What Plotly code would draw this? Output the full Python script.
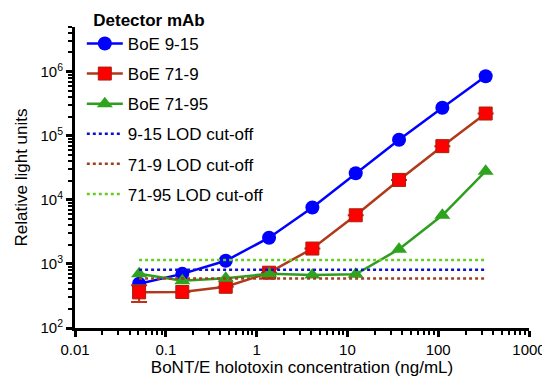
import plotly.graph_objects as go

conc = [0.0508, 0.152, 0.457, 1.372, 4.115, 12.35, 37.04, 111.1, 333.3]
boe_9_15 = [490, 700, 1120, 2570, 7600, 26000, 87000, 275000, 850000]
boe_71_9 = [360, 365, 440, 730, 1740, 5750, 20500, 69000, 223000]
boe_71_9_err = [105, 0, 0, 0, 0, 0, 0, 0, 0]
boe_71_95 = [705, 545, 600, 700, 670, 690, 1700, 5750, 28000]
lod_x = [0.0508, 333.3]
lod_9_15 = 810
lod_71_9 = 590
lod_71_95 = 1150

x_tickvals = [0.01, 0.1, 1, 10, 100, 1000]
x_ticktext = ["0.01", "0.1", "1", "10", "100", "1000"]
y_tickvals = [1e2, 1e3, 1e4, 1e5, 1e6]
y_ticktext = ["10<sup>2</sup>", "10<sup>3</sup>", "10<sup>4</sup>", "10<sup>5</sup>", "10<sup>6</sup>"]

FONT = "Arial, Liberation Sans, sans-serif"

fig = go.Figure()
fig.add_trace(go.Scatter(
    x=conc, y=boe_9_15, name="BoE 9-15", mode="lines+markers",
    line=dict(color="#0000FF", width=2.5),
    marker=dict(symbol="circle", size=14, color="#0000FF"),
    legendgroup="a"))
fig.add_trace(go.Scatter(
    x=conc, y=boe_71_9, name="BoE 71-9", mode="lines+markers",
    line=dict(color="#B0391A", width=2.5),
    marker=dict(symbol="square", size=13, color="#FF0000", line=dict(color="#A8200A", width=1)),
    error_y=dict(type="data", array=boe_71_9_err, color="#C0301A", thickness=2, width=8),
    legendgroup="b"))
fig.add_trace(go.Scatter(
    x=conc, y=boe_71_95, name="BoE 71-95", mode="lines+markers",
    line=dict(color="#2E9E1E", width=2.5),
    marker=dict(symbol="triangle-up", size=14, color="#2EA31E"),
    legendgroup="c"))
fig.add_trace(go.Scatter(
    x=lod_x, y=[lod_9_15] * len(lod_x), name="9-15 LOD cut-off", mode="lines",
    line=dict(color="#1010CC", width=2.5, dash="3px,3px"), legendgroup="d"))
fig.add_trace(go.Scatter(
    x=lod_x, y=[lod_71_9] * len(lod_x), name="71-9 LOD cut-off", mode="lines",
    line=dict(color="#A0401E", width=2.5, dash="3px,3px"), legendgroup="e"))
fig.add_trace(go.Scatter(
    x=lod_x, y=[lod_71_95] * len(lod_x), name="71-95 LOD cut-off", mode="lines",
    line=dict(color="#66CC22", width=2.5, dash="3px,3px"), legendgroup="f"))

fig.update_layout(
    width=550, height=388,
    margin=dict(l=67, r=29, t=19, b=68, autoexpand=False),
    paper_bgcolor="white", plot_bgcolor="white",
    font=dict(family=FONT, color="black", size=16),
    legend=dict(
        x=0.015, y=1.077, xanchor="left", yanchor="top",
        title=dict(text="&nbsp;&nbsp;<b>Detector mAb</b>", font=dict(size=17)),
        font=dict(size=17), tracegroupgap=5, maxheight=360, itemwidth=36,
        bgcolor="rgba(0,0,0,0)"),
    xaxis=dict(
        type="log", range=[-2, 3.0],
        tickvals=x_tickvals, ticktext=x_ticktext,
        showline=True, linecolor="black", linewidth=3,
        ticks="outside", ticklen=6, tickwidth=3, tickcolor="black",
        minor=dict(ticks="outside", ticklen=4, tickwidth=2, tickcolor="black", dtick="D1"),
        showgrid=False, zeroline=False,
        tickfont=dict(size=15),
        title=dict(text="BoNT/E holotoxin concentration (ng/mL)", font=dict(size=17), standoff=4)),
    yaxis=dict(
        type="log", range=[2, 6.699],
        tickvals=y_tickvals, ticktext=y_ticktext,
        showline=True, linecolor="black", linewidth=3,
        ticks="outside", ticklen=6, tickwidth=3, tickcolor="black",
        minor=dict(ticks="outside", ticklen=4, tickwidth=2, tickcolor="black", dtick="D1"),
        showgrid=False, zeroline=False,
        tickfont=dict(size=15),
        title=dict(text="Relative light units", font=dict(size=17), standoff=9)),
)

fig.write_html("out.html")
